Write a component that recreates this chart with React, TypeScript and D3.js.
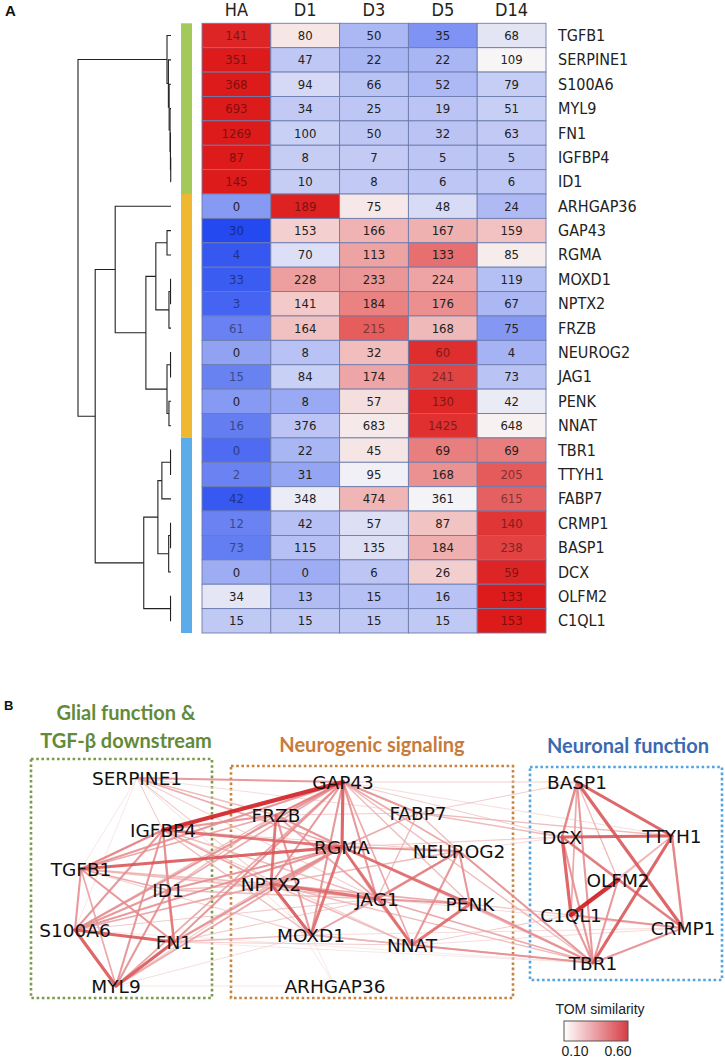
import React from 'react';
import * as d3 from 'd3';

// ---- Panel A data ----
const genes = [
  'TGFB1', 'SERPINE1', 'S100A6', 'MYL9', 'FN1', 'IGFBP4', 'ID1',
  'ARHGAP36', 'GAP43', 'RGMA', 'MOXD1', 'NPTX2', 'FRZB', 'NEUROG2', 'JAG1', 'PENK', 'NNAT',
  'TBR1', 'TTYH1', 'FABP7', 'CRMP1', 'BASP1', 'DCX', 'OLFM2', 'C1QL1',
];
const stages = ['HA', 'D1', 'D3', 'D5', 'D14'];
const expression = [
  [141, 80, 50, 35, 68],
  [351, 47, 22, 22, 109],
  [368, 94, 66, 52, 79],
  [693, 34, 25, 19, 51],
  [1269, 100, 50, 32, 63],
  [87, 8, 7, 5, 5],
  [145, 10, 8, 6, 6],
  [0, 189, 75, 48, 24],
  [30, 153, 166, 167, 159],
  [4, 70, 113, 133, 85],
  [33, 228, 233, 224, 119],
  [3, 141, 184, 176, 67],
  [61, 164, 215, 168, 75],
  [0, 8, 32, 60, 4],
  [15, 84, 174, 241, 73],
  [0, 8, 57, 130, 42],
  [16, 376, 683, 1425, 648],
  [0, 22, 45, 69, 69],
  [2, 31, 95, 168, 205],
  [42, 348, 474, 361, 615],
  [12, 42, 57, 87, 140],
  [73, 115, 135, 184, 238],
  [0, 0, 6, 26, 59],
  [34, 13, 15, 16, 133],
  [15, 15, 15, 15, 153],
];
const moduleSizes = [7, 10, 8];
const moduleColors = ['#a2c95a', '#f0b731', '#5cacea'];

// dendrogram merges (height relative to root = 1)
const merges = [
  { id: 'n1', a: 'IGFBP4', b: 'ID1', h: 0.003 },
  { id: 'n2', a: 'FN1', b: 'n1', h: 0.006 },
  { id: 'n3', a: 'MYL9', b: 'n2', h: 0.01 },
  { id: 'n4', a: 'S100A6', b: 'n3', h: 0.02 },
  { id: 'n5', a: 'SERPINE1', b: 'n4', h: 0.028 },
  { id: 'n6', a: 'TGFB1', b: 'n5', h: 0.043 },
  { id: 'n7', a: 'GAP43', b: 'RGMA', h: 0.043 },
  { id: 'n8', a: 'MOXD1', b: 'NPTX2', h: 0.005 },
  { id: 'n9', a: 'n8', b: 'FRZB', h: 0.022 },
  { id: 'n10', a: 'n7', b: 'n9', h: 0.163 },
  { id: 'n11', a: 'NEUROG2', b: 'JAG1', h: 0.005 },
  { id: 'n12', a: 'PENK', b: 'NNAT', h: 0.022 },
  { id: 'n13', a: 'n11', b: 'n12', h: 0.043 },
  { id: 'n14', a: 'n10', b: 'n13', h: 0.27 },
  { id: 'n15', a: 'ARHGAP36', b: 'n14', h: 0.6 },
  { id: 'n16', a: 'TBR1', b: 'TTYH1', h: 0.005 },
  { id: 'n17', a: 'n16', b: 'FABP7', h: 0.098 },
  { id: 'n18', a: 'CRMP1', b: 'BASP1', h: 0.005 },
  { id: 'n19', a: 'n18', b: 'DCX', h: 0.025 },
  { id: 'n20', a: 'n17', b: 'n19', h: 0.141 },
  { id: 'n21', a: 'OLFM2', b: 'C1QL1', h: 0.005 },
  { id: 'n22', a: 'n20', b: 'n21', h: 0.293 },
  { id: 'n23', a: 'n15', b: 'n22', h: 0.815 },
  { id: 'n24', a: 'n6', b: 'n23', h: 1.0 },
];

// ---- Panel B data ----
const nodeNames = [
  'SERPINE1', 'IGFBP4', 'TGFB1', 'ID1', 'S100A6', 'FN1', 'MYL9',
  'GAP43', 'FRZB', 'FABP7', 'RGMA', 'NEUROG2', 'NPTX2', 'JAG1', 'PENK', 'MOXD1', 'NNAT', 'ARHGAP36',
  'BASP1', 'DCX', 'TTYH1', 'OLFM2', 'C1QL1', 'CRMP1', 'TBR1',
];
// layout coordinates of the network (px)
const nodeX = [137, 163, 81, 168, 75, 174, 116, 343, 276, 418, 342, 459, 271, 377, 470, 311, 412, 335, 577, 562, 672, 618, 571, 683, 593];
const nodeY = [778, 830, 869, 890, 930, 942, 986, 782, 815, 813, 847, 851, 884, 899, 904, 935, 945, 986, 782, 837, 836, 880, 915, 928, 963];

const edges: [string, string, number][] = [
  ['IGFBP4', 'TGFB1', 0.35], ['IGFBP4', 'S100A6', 0.3], ['IGFBP4', 'ID1', 0.25], ['IGFBP4', 'FN1', 0.3],
  ['IGFBP4', 'MYL9', 0.3], ['IGFBP4', 'SERPINE1', 0.15], ['TGFB1', 'ID1', 0.25], ['TGFB1', 'S100A6', 0.3],
  ['TGFB1', 'FN1', 0.3], ['TGFB1', 'MYL9', 0.25], ['ID1', 'S100A6', 0.3], ['ID1', 'FN1', 0.35],
  ['ID1', 'MYL9', 0.3], ['S100A6', 'FN1', 0.45], ['S100A6', 'MYL9', 0.45], ['FN1', 'MYL9', 0.45],
  ['SERPINE1', 'TGFB1', 0.1], ['SERPINE1', 'S100A6', 0.1],
  ['IGFBP4', 'GAP43', 0.6], ['SERPINE1', 'GAP43', 0.3], ['SERPINE1', 'FRZB', 0.2], ['SERPINE1', 'RGMA', 0.25],
  ['SERPINE1', 'NPTX2', 0.15], ['SERPINE1', 'JAG1', 0.15], ['SERPINE1', 'MOXD1', 0.12], ['SERPINE1', 'FABP7', 0.12],
  ['IGFBP4', 'FRZB', 0.3], ['IGFBP4', 'RGMA', 0.4], ['IGFBP4', 'NPTX2', 0.25], ['IGFBP4', 'MOXD1', 0.2],
  ['IGFBP4', 'JAG1', 0.2], ['IGFBP4', 'NEUROG2', 0.15], ['IGFBP4', 'NNAT', 0.15], ['TGFB1', 'RGMA', 0.45],
  ['TGFB1', 'GAP43', 0.3], ['TGFB1', 'FRZB', 0.25], ['TGFB1', 'NPTX2', 0.2], ['TGFB1', 'JAG1', 0.2],
  ['TGFB1', 'MOXD1', 0.15], ['TGFB1', 'PENK', 0.12], ['ID1', 'GAP43', 0.25], ['ID1', 'RGMA', 0.3],
  ['ID1', 'NPTX2', 0.2], ['ID1', 'JAG1', 0.2], ['ID1', 'FRZB', 0.2], ['S100A6', 'GAP43', 0.3],
  ['S100A6', 'RGMA', 0.3], ['S100A6', 'NPTX2', 0.25], ['S100A6', 'FRZB', 0.2], ['S100A6', 'JAG1', 0.15],
  ['FN1', 'GAP43', 0.3], ['FN1', 'RGMA', 0.3], ['FN1', 'NPTX2', 0.2], ['FN1', 'MOXD1', 0.2],
  ['FN1', 'JAG1', 0.15], ['FN1', 'NNAT', 0.15], ['FN1', 'TBR1', 0.1], ['MYL9', 'RGMA', 0.25],
  ['MYL9', 'GAP43', 0.25], ['MYL9', 'NPTX2', 0.15], ['MYL9', 'MOXD1', 0.12], ['MYL9', 'ARHGAP36', 0.1],
  ['S100A6', 'TBR1', 0.1],
  ['GAP43', 'FRZB', 0.35], ['GAP43', 'RGMA', 0.45], ['GAP43', 'NPTX2', 0.3], ['GAP43', 'MOXD1', 0.3],
  ['GAP43', 'JAG1', 0.3], ['GAP43', 'NNAT', 0.25], ['GAP43', 'FABP7', 0.3], ['GAP43', 'NEUROG2', 0.25],
  ['GAP43', 'PENK', 0.2], ['FRZB', 'NPTX2', 0.4], ['FRZB', 'MOXD1', 0.3], ['FRZB', 'RGMA', 0.3],
  ['FRZB', 'JAG1', 0.25], ['FRZB', 'FABP7', 0.15], ['RGMA', 'MOXD1', 0.4], ['RGMA', 'NPTX2', 0.3],
  ['RGMA', 'NNAT', 0.4], ['RGMA', 'JAG1', 0.3], ['RGMA', 'PENK', 0.4], ['RGMA', 'NEUROG2', 0.3],
  ['RGMA', 'FABP7', 0.25], ['NPTX2', 'MOXD1', 0.45], ['NPTX2', 'JAG1', 0.4], ['NPTX2', 'PENK', 0.25],
  ['NPTX2', 'NEUROG2', 0.2], ['NPTX2', 'NNAT', 0.2], ['MOXD1', 'JAG1', 0.25], ['MOXD1', 'NNAT', 0.2],
  ['NEUROG2', 'JAG1', 0.35], ['NEUROG2', 'NNAT', 0.3], ['NEUROG2', 'PENK', 0.3], ['NEUROG2', 'MOXD1', 0.2],
  ['PENK', 'NNAT', 0.4], ['PENK', 'JAG1', 0.3], ['JAG1', 'NNAT', 0.3], ['FABP7', 'NEUROG2', 0.2],
  ['FABP7', 'JAG1', 0.2], ['ARHGAP36', 'MOXD1', 0.1], ['ARHGAP36', 'NPTX2', 0.1],
  ['FABP7', 'DCX', 0.2], ['FABP7', 'TTYH1', 0.2], ['FABP7', 'BASP1', 0.15], ['GAP43', 'BASP1', 0.15],
  ['GAP43', 'DCX', 0.15], ['GAP43', 'TTYH1', 0.12], ['RGMA', 'DCX', 0.15], ['NEUROG2', 'TBR1', 0.3],
  ['NEUROG2', 'DCX', 0.12], ['PENK', 'TBR1', 0.3], ['NNAT', 'TBR1', 0.3], ['JAG1', 'TBR1', 0.25],
  ['MOXD1', 'TBR1', 0.2], ['NPTX2', 'TBR1', 0.2], ['RGMA', 'TBR1', 0.2], ['NNAT', 'C1QL1', 0.15],
  ['NNAT', 'CRMP1', 0.12], ['PENK', 'C1QL1', 0.15], ['JAG1', 'CRMP1', 0.12], ['MOXD1', 'CRMP1', 0.12],
  ['FRZB', 'TBR1', 0.15], ['GAP43', 'TBR1', 0.2], ['PENK', 'CRMP1', 0.12],
  ['BASP1', 'DCX', 0.35], ['BASP1', 'TTYH1', 0.45], ['BASP1', 'CRMP1', 0.45], ['BASP1', 'TBR1', 0.3],
  ['BASP1', 'C1QL1', 0.25], ['BASP1', 'OLFM2', 0.2], ['DCX', 'TTYH1', 0.45], ['DCX', 'C1QL1', 0.45],
  ['DCX', 'OLFM2', 0.3], ['DCX', 'CRMP1', 0.35], ['DCX', 'TBR1', 0.3], ['TTYH1', 'CRMP1', 0.35],
  ['TTYH1', 'TBR1', 0.45], ['TTYH1', 'C1QL1', 0.2], ['TTYH1', 'OLFM2', 0.2], ['OLFM2', 'C1QL1', 0.6],
  ['OLFM2', 'TBR1', 0.3], ['OLFM2', 'CRMP1', 0.25], ['C1QL1', 'CRMP1', 0.3], ['C1QL1', 'TBR1', 0.3],
  ['CRMP1', 'TBR1', 0.3],
];

const groupTitles = [
  { lines: ['Glial function &', 'TGF-β downstream'], color: '#638a38', box: '#7b9b4b' },
  { lines: ['Neurogenic signaling'], color: '#c97b3b', box: '#c8843e' },
  { lines: ['Neuronal function'], color: '#3b69b1', box: '#52a5de' },
];
const tomTicks = [0.1, 0.6];

const W = 725;
const H = 1059;
const narrow = "'Liberation Sans Narrow', 'DejaVu Sans Condensed', 'Liberation Sans', sans-serif";

const App: React.FC = () => {
  // heatmap geometry
  const hmLeft = 202, hmRight = 546, hmTop = 23.3, hmBottom = 633;
  const x = d3.scaleBand<string>().domain(stages).range([hmLeft, hmRight]);
  const y = d3.scaleBand<string>().domain(genes).range([hmTop, hmBottom]);
  const color = d3.scaleLinear<string>()
    .domain([-1.9, 0, 1.9])
    .range(['#2449f0', '#f8f6f6', '#dd1b1b'])
    .clamp(true);

  // row-wise z-scores drive the colours
  const zRows = expression.map(row => {
    const m = d3.mean(row) as number;
    const sd = Math.sqrt(d3.mean(row, v => (v - m) ** 2) as number) || 1;
    return row.map(v => (v - m) / sd);
  });

  // dendrogram
  const dx = d3.scaleLinear().domain([0, 1]).range([171, 78]);
  const pos: Record<string, { y: number; h: number }> = {};
  genes.forEach(g => { pos[g] = { y: (y(g) as number) + y.bandwidth() / 2, h: 0 }; });
  const dendroLines: string[] = [];
  merges.forEach(m => {
    const a = pos[m.a], b = pos[m.b];
    const xx = dx(m.h);
    dendroLines.push(`M${dx(a.h)},${a.y}H${xx}V${b.y}H${dx(b.h)}`);
    pos[m.id] = { y: (a.y + b.y) / 2, h: m.h };
  });

  // module bar
  let cum = 0;
  const moduleBars = moduleSizes.map((n, i) => {
    const y0 = y(genes[cum]) as number;
    cum += n;
    const y1 = (y(genes[cum - 1]) as number) + y.bandwidth();
    return { y0, y1, color: moduleColors[i] };
  });

  // network
  const nodePos: Record<string, [number, number]> = {};
  nodeNames.forEach((n, i) => { nodePos[n] = [nodeX[i], nodeY[i]]; });
  const edgeColor = d3.scaleLinear<string>().domain([0.1, 0.6]).range(['#f4d8d8', '#cf181c']).clamp(true);
  const edgeWidth = d3.scaleLinear().domain([0.1, 0.6]).range([0.7, 4.2]);
  const sortedEdges = [...edges].sort((a, b) => a[2] - b[2]);

  const boxes = [
    { x0: 31, y0: 759, x1: 212, y1: 998 },
    { x0: 231, y0: 766, x1: 513, y1: 998 },
    { x0: 530, y0: 767, x1: 722, y1: 980 },
  ];
  const titlePos = [
    { cx: 126, y: [720, 748] },
    { cx: 372, y: [752] },
    { cx: 628, y: [753] },
  ];

  const legendX = d3.scaleLinear().domain([0.1, 0.6]).range([575, 618]);

  return (
    <svg width={W} height={H} style={{ position: 'absolute', left: 0, top: 0, background: '#fff' }}
      fontFamily="'Liberation Sans', Arial, sans-serif">
      <defs>
        <linearGradient id="tomGrad" x1="0" x2="1" y1="0" y2="0">
          <stop offset="0%" stopColor="#ffffff" />
          <stop offset="100%" stopColor="#d63d46" />
        </linearGradient>
      </defs>

      {/* Panel A */}
      <text x={5} y={16} fontWeight="bold" fontSize={15} fill="#111">A</text>
      {stages.map(s => (
        <text key={s} x={(x(s) as number) + x.bandwidth() / 2} y={16} textAnchor="middle" fontFamily={narrow}
          fontSize={18} fill="#222">{s}</text>
      ))}
      <g>
        {dendroLines.map((d, i) => (
          <path key={i} d={d} fill="none" stroke="#222" strokeWidth={1.1} />
        ))}
      </g>
      {moduleBars.map((b, i) => (
        <rect key={i} x={181} y={b.y0} width={11} height={b.y1 - b.y0} fill={b.color} />
      ))}
      {genes.map((g, r) => (
        <g key={g}>
          {stages.map((s, c) => {
            const z = zRows[r][c];
            const fill = color(z);
            const tc = Math.abs(z) > 1.25 ? (d3.color(fill) as d3.RGBColor).darker(1.6).formatHex() : '#222';
            return (
              <g key={s}>
                <rect x={x(s)} y={y(g)} width={x.bandwidth()} height={y.bandwidth()} fill={fill}
                  stroke="#6d7cae" strokeWidth={0.9} />
                <text x={(x(s) as number) + x.bandwidth() / 2} y={(y(g) as number) + y.bandwidth() / 2 + 4.5}
                  textAnchor="middle" fontFamily={narrow} fontSize={13} fill={tc}>{expression[r][c]}</text>
              </g>
            );
          })}
          <text x={558} y={(y(g) as number) + y.bandwidth() / 2 + 5.5} fontFamily={narrow} fontSize={16}
            fill="#222">{g}</text>
        </g>
      ))}

      {/* Panel B */}
      <text x={4} y={710} fontWeight="bold" fontSize={13} fill="#111">B</text>
      {groupTitles.map((t, i) => (
        <g key={i}>
          {t.lines.map((line, j) => (
            <text key={j} x={titlePos[i].cx} y={titlePos[i].y[j]} textAnchor="middle" fontFamily="Lato, 'Open Sans', sans-serif"
              fontWeight="bold" fontSize={20} fill={t.color}>{line}</text>
          ))}
          <rect x={boxes[i].x0} y={boxes[i].y0} width={boxes[i].x1 - boxes[i].x0} height={boxes[i].y1 - boxes[i].y0}
            fill="none" stroke={t.box} strokeWidth={2.6} strokeDasharray="2.6 2.6" />
        </g>
      ))}
      <g>
        {sortedEdges.map(([a, b, w], i) => (
          <line key={i} x1={nodePos[a][0]} y1={nodePos[a][1]} x2={nodePos[b][0]} y2={nodePos[b][1]}
            stroke={edgeColor(w)} strokeWidth={edgeWidth(w)} strokeOpacity={0.88} strokeLinecap="round" />
        ))}
      </g>
      {nodeNames.map((n, i) => (
        <text key={n} x={nodeX[i]} y={nodeY[i] + 6.8} textAnchor="middle" fontFamily="'DejaVu Sans', sans-serif"
          fontSize={18.5} fill="#111">{n}</text>
      ))}

      {/* legend */}
      <text x={600} y={1014} textAnchor="middle" fontSize={14} fill="#222">TOM similarity</text>
      <rect x={564} y={1021} width={64} height={20} fill="url(#tomGrad)" stroke="#555" strokeWidth={1} />
      {tomTicks.map(t => (
        <text key={t} x={legendX(t)} y={1056} textAnchor="middle" fontSize={14} fill="#222">{t.toFixed(2)}</text>
      ))}
    </svg>
  );
};

export default App;
